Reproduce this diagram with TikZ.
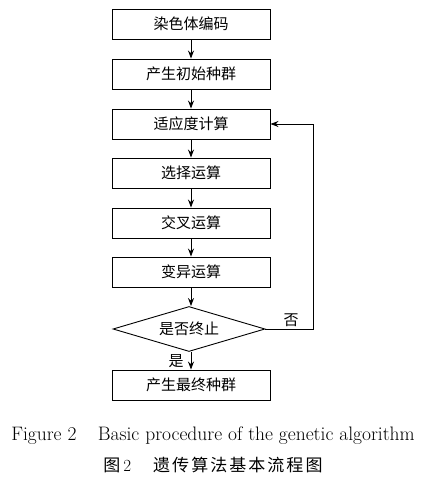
\documentclass[tikz,border=0pt]{standalone}
\usepackage{fontspec}
\newfontfamily\cjk{Noto Sans CJK SC}
\newfontfamily\cjkcap[LetterSpace=12]{Noto Sans CJK SC}
\usetikzlibrary{shapes.geometric,arrows.meta}
\begin{document}
\begin{tikzpicture}[x=1pt,y=-1pt,
  box/.style={draw,line width=0.9pt,minimum width=158pt,minimum height=30pt,inner sep=0pt,font=\cjk\fontsize{15}{17}\selectfont},
  dia/.style={draw,line width=0.9pt,diamond,aspect=3.4,minimum width=152pt,minimum height=45pt,inner sep=0pt,font=\cjk\fontsize{15}{17}\selectfont},
  arr/.style={line width=0.9pt,-{Stealth[length=8pt,width=6pt]}},
  lbl/.style={font=\cjk\fontsize{15}{17}\selectfont,inner sep=1pt}]
\useasboundingbox (0,0) rectangle (424,481);
\node[box] (b1) at (191,24) {染色体编码};
\node[box] (b2) at (191,74) {产生初始种群};
\node[box] (b3) at (191,124) {适应度计算};
\node[box] (b4) at (191,173) {选择运算};
\node[box] (b5) at (191,223) {交叉运算};
\node[box] (b6) at (191,272) {变异运算};
\node[dia] (d) at (189,329) {是否终止};
\node[box] (b7) at (191,385) {产生最终种群};
\coordinate (c1) at (313,329);
\coordinate (c2) at (313,124);
\draw[arr] (b1) -- (b2);
\draw[arr] (b2) -- (b3);
\draw[arr] (b3) -- (b4);
\draw[arr] (b4) -- (b5);
\draw[arr] (b5) -- (b6);
\draw[arr] (b6.south) -- (b6.south |- d.north);
\draw[arr] (b7.north |- d.south) -- (b7.north);
\draw[arr] (d.east) -- (c1) -- (c2) -- (b3.east);
\node[lbl] (no) at (291,320) {否};
\node[lbl] (yes) at (176,361) {是};
\node[font=\fontsize{19.5}{21}\selectfont,inner sep=0pt] (cap1) at (213,436) {Figure 2\hspace{1.1em}Basic procedure of the genetic algorithm};
\node[font=\fontsize{17}{19}\selectfont,inner sep=0pt] (cap2) at (213,465) {{\cjkcap 图}\,2\hspace{1.3em}{\cjkcap 遗传算法基本流程图}};
\end{tikzpicture}
\end{document}
